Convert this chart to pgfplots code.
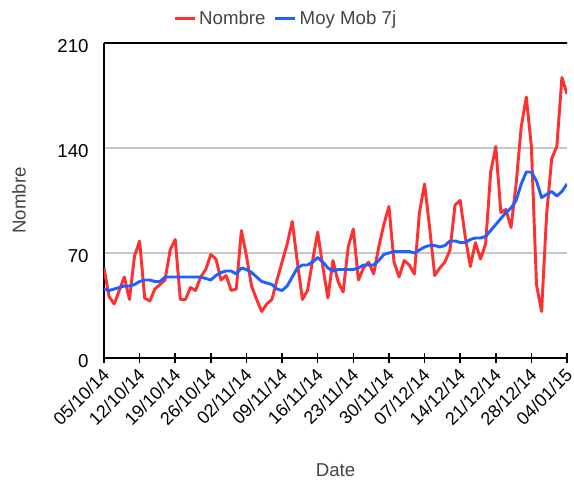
\documentclass[border=0pt]{standalone}
\usepackage{fontspec}
\setmainfont{Liberation Sans}
\usepackage{pgfplots}
\usepackage{pgfplotstable}
\pgfplotsset{compat=1.18}

\definecolor{rouge}{RGB}{255,48,48}
\definecolor{bleu}{RGB}{32,96,255}
\definecolor{grille}{RGB}{200,200,200}
\definecolor{texte}{RGB}{68,68,68}

% jour 0 = 05/10/14
\pgfplotstableread{
jour nombre moy
0 60 46
1 41 45
2 36 46
3 45 47
4 54 48
5 39 48
6 68 49
7 78 51
8 40 52
9 38 52
10 46 51
11 49 51
12 52 54
13 72 54
14 79 54
15 39 54
16 39 54
17 47 54
18 45 54
19 54 54
20 59 53
21 69 52
22 66 55
23 52 57
24 55 58
25 45 58
26 46 56
27 85 60
28 68 59
29 48 57
30 39 54
31 31 51
32 36 50
33 39 49
34 52 46
35 64 45
36 76 48
37 91 54
38 64 60
39 39 62
40 45 62
41 65 64
42 84 67
43 61 64
44 40 60
45 65 58
46 51 59
47 44 59
48 74 59
49 86 59
50 52 60
51 60 62
52 64 62
53 56 62
54 74 65
55 89 69
56 101 70
57 64 71
58 54 71
59 65 71
60 62 71
61 56 70
62 97 72
63 116 74
64 87 75
65 55 75
66 60 74
67 64 75
68 72 78
69 102 78
70 105 77
71 81 77
72 61 79
73 77 80
74 66 80
75 76 81
76 124 85
77 141 89
78 97 93
79 99 97
80 87 100
81 116 105
82 154 116
83 174 124
84 141 124
85 49 118
86 31 107
87 96 109
88 133 111
89 141 108
90 187 111
91 176 116
}\donnees

\begin{document}
\begin{tikzpicture}
\useasboundingbox (-78pt,-94.5pt) rectangle (352.5pt,268.5pt);
\begin{axis}[
    scale only axis,
    width=347.25pt, height=236.25pt,
    xmin=0, xmax=91, ymin=0, ymax=210,
    axis x line=bottom, axis y line=left,
    axis line style={-, black, line width=1.4pt},
    xtick={0,7,...,91},
    xticklabels={05/10/14,12/10/14,19/10/14,26/10/14,02/11/14,09/11/14,16/11/14,23/11/14,30/11/14,07/12/14,14/12/14,21/12/14,28/12/14,04/01/15},
    ytick={0,70,140,210},
    ymajorgrids,
    grid style={grille, line width=1.2pt},
    tick align=center,
    major tick length=8pt,
    xtick style={black, line width=1.2pt},
    ytick style={draw=none},
    tick label style={font=\fontsize{14}{16}\selectfont, black},
    /pgf/number format/assume math mode=true,
    xticklabel style={rotate=45, anchor=north east, inner sep=0.5pt,
        font=\fontsize{13.5}{16}\selectfont, xshift=-3pt},
    yticklabel style={xshift=-4pt, yshift=-2.5pt},
    xlabel={Date},
    xlabel style={at={(axis description cs:0.5,-0.3556)}, anchor=center,
        font=\fontsize{14}{16}\selectfont, text=texte},
    ylabel={Nombre},
    ylabel style={at={(axis description cs:-0.1836,0.5)}, anchor=center,
        font=\fontsize{14}{16}\selectfont, text=texte},
    legend columns=2,
    legend style={at={(0.393,1.077)}, anchor=center, draw=none, fill=none,
        font=\fontsize{14}{16}\selectfont, text=texte,
        /tikz/every even column/.append style={column sep=4pt}},
    legend image code/.code={\draw[#1, line width=2.6pt] (0pt,0pt) -- (15pt,0pt);},
]
\addplot[rouge, line width=2.2pt, line join=round] table[x=jour, y=nombre]{\donnees};
\addlegendentry{Nombre}
\addplot[bleu, line width=2.2pt, line join=round] table[x=jour, y=moy]{\donnees};
\addlegendentry{Moy Mob 7j}
\draw[black, line width=1.4pt] (rel axis cs:0,1) -- ([xshift=3pt]rel axis cs:1,1);
\end{axis}
\end{tikzpicture}
\end{document}
